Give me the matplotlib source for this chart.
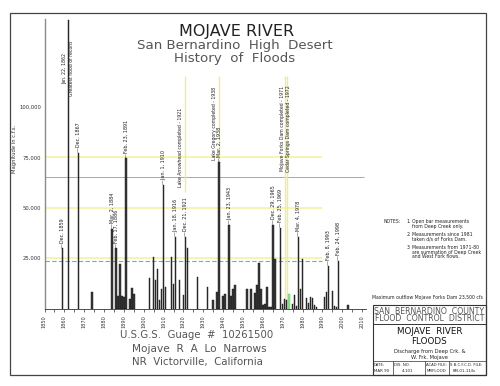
import matplotlib
matplotlib.use("Agg")
import matplotlib.pyplot as plt
from matplotlib.patches import Rectangle

# annual peak discharge, c.f.s.
years = [1859, 1862, 1867, 1874, 1884, 1886, 1887, 1888, 1889, 1890, 1891, 1893,
         1894, 1895, 1903, 1905, 1906, 1907, 1908, 1909, 1910, 1911, 1914, 1915,
         1916, 1918, 1920, 1921, 1922, 1927, 1932, 1935, 1937, 1938, 1940, 1941,
         1943, 1944, 1945, 1946, 1952, 1954, 1956, 1957, 1958, 1959, 1960, 1961,
         1962, 1963, 1964, 1965, 1966, 1969, 1970, 1971, 1972, 1975, 1976, 1977,
         1978, 1979, 1980, 1982, 1983, 1984, 1985, 1986, 1987, 1991, 1992, 1993,
         1995, 1996, 1997, 1998, 2003]
peaks = [29800, 143500, 77300, 8100, 39600, 29800, 6200, 22000, 6000, 5700, 74500, 4800,
         10200, 7000, 15000, 25700, 14000, 19800, 4000, 9500, 61500, 10800, 25700, 12000,
         35700, 14300, 6700, 35700, 29800, 15800, 10800, 4000, 8000, 72500, 6000, 7000,
         41600, 6200, 9600, 11600, 9900, 9800, 7800, 11800, 22800, 9800, 1500, 2000,
         10800, 800, 800, 41500, 24500, 40000, 2300, 4800, 4000, 2000, 6500, 1000,
         35700, 9800, 24800, 5400, 2500, 5500, 5000, 1500, 800, 5500, 8200, 21200,
         8500, 1000, 900, 23800, 1800]
green_years = [1973]
green_peaks = [7300]

event_years = [1859, 1867, 1884, 1886, 1891, 1910, 1916, 1921, 1938, 1943,
               1965, 1969, 1978, 1993, 1998]
event_names = ["Dec. 1859", "Dec. 1867", "Mar. 2, 1884", "Feb. 17, 1886",
               "Feb. 23, 1891", "Jan. 1, 1910", "Jan. 18, 1916", "Dec. 21, 1921",
               "Mar. 2, 1938", "Jan. 23, 1943", "Dec. 29, 1965", "Feb. 25, 1969",
               "Mar. 4, 1978", "Feb. 8, 1993", "Feb. 24, 1998"]

dam_years = [1921, 1938, 1971, 1972]
dam_names = ["Lake Arrowhead completed - 1921", "Lake Gregory completed - 1938",
             "Mojave Forks Dam completed - 1971", "Cedar Springs Dam completed - 1972"]
dam_bottoms = [58000, 72500, 0, 0]

ref_levels = [25000, 50000, 75000]
dam_outflow = 23500
grey_level = 65500

W, H = 500, 386


def fx(x):
    return x / W


def fy(y):
    return 1 - y / H


fig = plt.figure(figsize=(5, 3.86), dpi=100)
fig.patch.set_facecolor("white")
ax = fig.add_axes([fx(44.5), fy(308.5), 321.6 / W, 290 / H])

# reference levels
ax.hlines(ref_levels, 1850, 1990, colors="#f2f29a", lw=1.1, zorder=1)
ax.hlines(dam_outflow, 1850, 1990, colors="#38c4dc", lw=0.8, linestyles=(0, (4, 2)), zorder=1)
ax.hlines(grey_level, 1850, 2011, colors="#9a9a9a", lw=0.6, zorder=1)

# dam completion lines
for yr, name, bot in zip(dam_years, dam_names, dam_bottoms):
    ax.vlines(yr, bot, 115500, colors="#eeee88", lw=1.0, zorder=1)
offsets = [-2.3, -2.4, -1.2, 1.0]
centers = [80000, 92000, 89500, 89500]
for yr, name, dx, cy in zip(dam_years, dam_names, offsets, centers):
    ax.text(yr + dx, cy, name, rotation=90, ha="center", va="center",
            fontsize=3.3, color="#222")

# flood peaks
ax.bar(years, peaks, width=0.75, color="#3a3a3a", edgecolor="#111", lw=0.3, zorder=2)
ax.bar(green_years, green_peaks, width=0.9, color="#8fe08f", edgecolor="#5cc85c", lw=0.3, zorder=2)

lookup = dict(zip(years, peaks))
for yr, name in zip(event_years, event_names):
    ax.text(yr, lookup[yr] + 300, "\u2014" + name, rotation=90, ha="center", va="bottom",
            fontsize=3.5, color="#222", zorder=3)
ax.text(1861.8, 119000, "Jan. 22, 1862\nGreatest flood of record", rotation=90,
        ha="center", va="center", fontsize=3.3, color="#222", linespacing=1.6)

ax.set_xlim(1850, 2012)
ax.set_ylim(0, 144000)
ax.set_xticks(range(1850, 2011, 10))
ax.set_xticks(range(1850, 2011, 5), minor=True)
ax.set_xticklabels([str(y) for y in range(1850, 2011, 10)], rotation=90, fontsize=3.6, color="#333")
ax.tick_params(axis="x", which="both", direction="out", length=2.5, width=0.5, pad=2, colors="#333")
ax.set_yticks(ref_levels + [100000])
ax.set_yticklabels(["25,000", "50,000", "75,000", "100,000"], fontsize=3.8, color="#333")
ax.tick_params(axis="y", length=0, pad=2.5)
ax.set_ylabel("Magnitude in c.f.s.", fontsize=3.8, color="#333")
ax.yaxis.set_label_coords(-0.085, 0.55)
for side in ["top", "right"]:
    ax.spines[side].set_visible(False)
ax.spines["left"].set_color("#8a8a8a")
ax.spines["left"].set_linewidth(1.0)
ax.spines["bottom"].set_color("#333")
ax.spines["bottom"].set_linewidth(0.6)
ax.spines["bottom"].set_bounds(1850, 2012)
ax.patch.set_alpha(0)

# titles
ax_col = "#555"
fig.text(fx(237), fy(31.5), "MOJAVE RIVER", ha="center", va="center", fontsize=11.5, color="#222")
fig.text(fx(235), fy(45), "San Bernardino  High  Desert", ha="center", va="center", fontsize=9.6, color=ax_col)
fig.text(fx(235), fy(58.5), "History  of  Floods", ha="center", va="center", fontsize=9.6, color=ax_col)

fig.text(fx(120), fy(335), "U.S.G.S.  Guage  #  10261500", ha="left", va="center", fontsize=7.3, color=ax_col)
fig.text(fx(131.5), fy(349.5), "Mojave  R  A  Lo  Narrows", ha="left", va="center", fontsize=7.6, color=ax_col)
fig.text(fx(132.5), fy(362.5), "NR  Victorville,  California", ha="left", va="center", fontsize=7.4, color=ax_col)

# notes
nf = 3.3
fig.text(fx(384), fy(221.5), "NOTES:", fontsize=nf, va="center", color="#222")
notes = [("1.", ["Open bar measurements", "from Deep Creek only."], 221.5),
         ("2.", ["Measurements since 1981", "taken d/s of Forks Dam."], 234.5),
         ("3.", ["Measurements from 1971-80", "are summation of Deep Creek", "and West Fork flows."], 247.5)]
for num, lines, y0 in notes:
    fig.text(fx(406.5), fy(y0), num, fontsize=nf, va="center", color="#222")
    for i, line in enumerate(lines):
        fig.text(fx(412.5), fy(y0 + 4.6 * i), line, fontsize=nf, va="center", color="#222")
fig.text(fx(483), fy(297.5), "Maximum outflow Mojave Forks Dam 23,500 cfs", fontsize=nf,
         ha="right", va="center", color="#222")

# sheet border and title block
fig.add_artist(Rectangle((fx(10), fy(375)), 476 / W, 362 / H, transform=fig.transFigure,
                         fill=False, lw=0.9, ec="#444"))
fig.add_artist(Rectangle((fx(372.5), fy(375)), 113.5 / W, 70 / H, transform=fig.transFigure,
                         fill=False, lw=0.8, ec="#333"))
fig.add_artist(plt.Line2D([fx(372.5), fx(486)], [fy(323.5), fy(323.5)], transform=fig.transFigure,
                          lw=0.7, color="#333"))
fig.add_artist(plt.Line2D([fx(372.5), fx(486)], [fy(361), fy(361)], transform=fig.transFigure,
                          lw=0.5, color="#333"))
for xd in [392.7, 425, 449.3]:
    fig.add_artist(plt.Line2D([fx(xd), fx(xd)], [fy(361), fy(375)], transform=fig.transFigure,
                              lw=0.5, color="#333"))

bx = 429.3
fig.text(fx(bx), fy(311), "SAN  BERNARDINO  COUNTY", ha="center", va="center", fontsize=5.6, color="#555")
fig.text(fx(bx), fy(318.5), "FLOOD  CONTROL  DISTRICT", ha="center", va="center", fontsize=5.6, color="#555")
fig.text(fx(bx), fy(332), "MOJAVE  RIVER", ha="center", va="center", fontsize=6.3, color="#111")
fig.text(fx(bx), fy(342), "FLOODS", ha="center", va="center", fontsize=6.3, color="#111")
fig.text(fx(bx), fy(351.5), "Discharge from Deep Crk. &", ha="center", va="center", fontsize=3.7, color="#222")
fig.text(fx(bx), fy(357.3), "W. Frk. Mojave", ha="center", va="center", fontsize=3.7, color="#222")

cells = [(374, "DATE:", 374.5, "MAR 90"), (394, "DIS. NO.", 402, "4-101"),
         (426, "ACAD FILE:", 426.5, "MRFLOOD"), (450.5, "S.B.C.F.C.D. FILE:", 452.5, "8M-01-11/b")]
for x1, head, x2, val in cells:
    fig.text(fx(x1), fy(365), head, fontsize=2.7, va="center", color="#222")
    fig.text(fx(x2), fy(370.5), val, fontsize=2.9, va="center", color="#222")

fig.savefig("out.png", dpi=100, facecolor="white")
